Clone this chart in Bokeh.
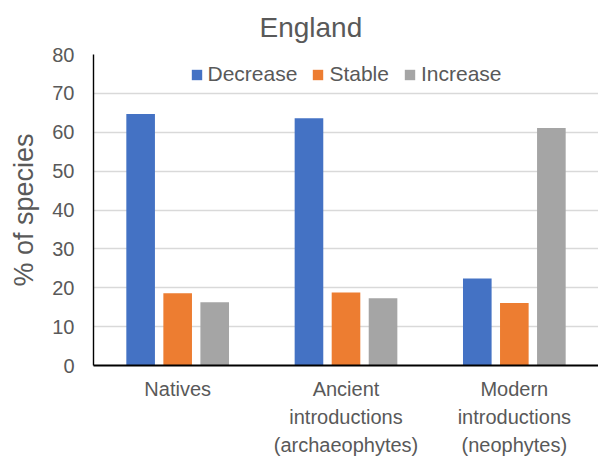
from bokeh.plotting import figure
from bokeh.models import ColumnDataSource, FactorRange, Range1d, Legend, LegendItem
from bokeh.transform import dodge
from bokeh.embed import file_html
from bokeh.resources import INLINE

categories = ["Natives", "Ancient\nintroductions\n(archaeophytes)", "Modern\nintroductions\n(neophytes)"]
decrease = [64.7, 63.6, 22.4]
stable = [18.6, 18.8, 16.1]
increase = [16.3, 17.3, 61.1]
series_names = ["Decrease", "Stable", "Increase"]
colors = ["#4472C4", "#ED7D31", "#A5A5A5"]
y_ticks = [0, 10, 20, 30, 40, 50, 60, 70, 80]

FONT = "Liberation Sans"
TXT = "#595959"

source = ColumnDataSource(dict(cat=categories, Decrease=decrease, Stable=stable, Increase=increase))

p = figure(
    x_range=FactorRange(*categories, range_padding=0),
    y_range=Range1d(0, 80),
    width=598, height=458,
    output_backend="svg", toolbar_location=None,
    min_border_left=93, min_border_right=0, min_border_top=54, min_border_bottom=88,
)
p.outline_line_color = None
p.background_fill_color = "white"
p.border_fill_color = "white"

offsets = [-0.22, 0.0, 0.22]
renderers = []
for name, col, off in zip(series_names, colors, offsets):
    r = p.vbar(x=dodge("cat", off, range=p.x_range), top=name, width=0.17,
               source=source, fill_color=col, line_color=None)
    renderers.append(r)

legend = Legend(items=[LegendItem(label=n, renderers=[r]) for n, r in zip(series_names, renderers)],
                orientation="horizontal", location="top_center")
legend.label_text_font = FONT
legend.label_text_font_size = "21px"
legend.label_text_color = TXT
legend.glyph_width = 13
legend.glyph_height = 13
legend.label_standoff = 5
legend.spacing = 14
legend.margin = 8
legend.padding = 10
legend.border_line_color = None
legend.background_fill_alpha = 0
p.add_layout(legend)

# title
p.title.text = "England"
p.title.align = "left"
p.title.vertical_align = "top"
p.title.offset = 166
p.title.standoff = 19
p.title.text_font = FONT
p.title.text_font_size = "28px"
p.title.text_font_style = "normal"
p.title.text_color = TXT

# y axis
p.yaxis.ticker = y_ticks
p.yaxis.axis_label = "% of species"
p.yaxis.axis_label_text_font = FONT
p.yaxis.axis_label_text_font_size = "27px"
p.yaxis.axis_label_text_font_style = "normal"
p.yaxis.axis_label_text_color = TXT
p.yaxis.axis_label_standoff = 10
p.yaxis.major_label_text_font = FONT
p.yaxis.major_label_text_font_size = "20px"
p.yaxis.major_label_text_color = TXT
p.yaxis.major_tick_line_color = None
p.yaxis.minor_tick_line_color = None
p.yaxis.major_tick_out = 0
p.yaxis.major_label_standoff = 19
p.yaxis.axis_line_color = "black"
p.yaxis.axis_line_width = 1.4

# x axis
p.xaxis.major_label_text_font = FONT
p.xaxis.major_label_text_font_size = "20px"
p.xaxis.major_label_text_color = TXT
p.xaxis.major_label_text_line_height = 1.28
p.xaxis.major_tick_line_color = None
p.xaxis.major_tick_out = 0
p.xaxis.major_label_standoff = 12
p.xaxis.axis_line_color = "black"
p.xaxis.axis_line_width = 2
p.xaxis.major_label_orientation = "horizontal"

# grid
p.xgrid.grid_line_color = None
p.ygrid.grid_line_color = "#D9D9D9"
p.ygrid.grid_line_width = 1.3
p.ygrid.ticker = y_ticks

open("out.html", "w").write(file_html(p, INLINE))
